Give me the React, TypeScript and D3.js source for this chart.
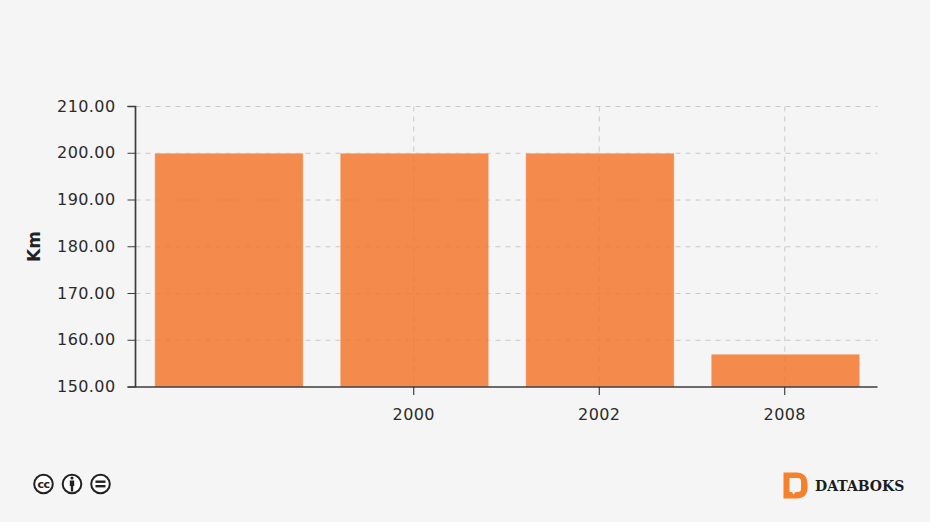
import React, { useEffect, useRef } from 'react'
import * as d3 from 'd3'

const categories = ['', '2000', '2002', '2008']
const values = [200, 200, 200, 157]
const yTicks = [150, 160, 170, 180, 190, 200, 210]
const yTitle = 'Km'
const brand = 'DATABOKS'

const width = 930
const height = 522
const margin = { top: 106.5, right: 52.5, bottom: 135, left: 135.5 }
const font = '"DejaVu Sans", sans-serif'

const App = () => {
  const svgRef = useRef<SVGSVGElement>(null)

  useEffect(() => {
    if (!svgRef.current) return
    const svg = d3.select(svgRef.current)
    svg.selectAll('*').remove()

    const x = d3
      .scaleBand()
      .domain(categories)
      .range([margin.left, width - margin.right])
      .paddingInner(0.2)
      .paddingOuter(0.1)
    const y = d3
      .scaleLinear()
      .domain([150, 210])
      .range([height - margin.bottom, margin.top])

    // grid sits under the translucent bars
    const grid = svg.append('g')
    grid
      .selectAll('line.h')
      .data(yTicks.slice(1))
      .join('line')
      .attr('class', 'h')
      .attr('x1', margin.left)
      .attr('x2', width - margin.right)
      .attr('y1', (d) => y(d))
      .attr('y2', (d) => y(d))
    grid
      .selectAll('line.v')
      .data(categories.filter((c) => c !== ''))
      .join('line')
      .attr('class', 'v')
      .attr('x1', (d) => x(d)! + x.bandwidth() / 2)
      .attr('x2', (d) => x(d)! + x.bandwidth() / 2)
      .attr('y1', margin.top)
      .attr('y2', height - margin.bottom)
    grid
      .selectAll('line')
      .attr('stroke', '#c8c8c8')
      .attr('stroke-width', 1)
      .attr('stroke-dasharray', '5 5')

    svg
      .append('g')
      .attr('transform', 'translate(0.7,0)')
      .selectAll('rect')
      .data(values)
      .join('rect')
      .attr('x', (_, i) => x(categories[i])!)
      .attr('y', (d) => y(d))
      .attr('width', x.bandwidth())
      .attr('height', (d) => y(150) - y(d))
      .attr('fill', '#f4742a')
      .attr('fill-opacity', 0.83)
      .attr('stroke', '#ffffff')
      .attr('stroke-opacity', 0.3)
      .attr('stroke-width', 1)

    const yAxis = d3
      .axisLeft(y)
      .tickValues(yTicks)
      .tickSize(8)
      .tickPadding(12)
      .offset(0)
      .tickFormat(d3.format('.2f') as any)
    const yG = svg
      .append('g')
      .attr('transform', `translate(${margin.left},0)`)
      .call(yAxis)
    yG.select('.domain').attr('stroke', '#3c3c3c').attr('stroke-width', 1.7)
    yG.selectAll('.tick line').attr('stroke', '#3c3c3c')
    yG.selectAll('text')
      .attr('font-family', font)
      .attr('font-size', 16)
      .attr('letter-spacing', 0.4)
      .attr('fill', '#2b2b2b')

    const xAxis = d3
      .axisBottom(x)
      .tickValues(categories.filter((c) => c !== ''))
      .tickSize(8)
      .tickSizeOuter(0)
      .tickPadding(14)
      .offset(0)
    const xG = svg
      .append('g')
      .attr('transform', `translate(0,${height - margin.bottom})`)
      .call(xAxis)
    xG.select('.domain').attr('stroke', '#3c3c3c').attr('stroke-width', 1.7)
    xG.selectAll('.tick line').attr('stroke', '#222')
    xG.selectAll('text')
      .attr('font-family', font)
      .attr('font-size', 16)
      .attr('letter-spacing', 0.4)
      .attr('fill', '#2b2b2b')

    svg
      .append('text')
      .attr('transform', 'translate(40,246.5) rotate(-90)')
      .attr('text-anchor', 'middle')
      .attr('font-family', font)
      .attr('font-size', 17)
      .attr('font-weight', 700)
      .attr('fill', '#222')
      .text(yTitle)

    // licence badges
    const badges = svg.append('g').attr('fill', 'none').attr('stroke', '#222')
    ;[43.5, 72, 100.5].forEach((cx) => {
      badges
        .append('circle')
        .attr('cx', cx)
        .attr('cy', 484)
        .attr('r', 9.3)
        .attr('fill', '#fff')
        .attr('stroke-width', 2)
    })
    svg
      .append('text')
      .attr('x', 43.5)
      .attr('y', 488)
      .attr('text-anchor', 'middle')
      .attr('font-family', font)
      .attr('font-size', 11)
      .attr('font-weight', 700)
      .attr('letter-spacing', -0.4)
      .attr('fill', '#222')
      .text('cc')
    const person = svg.append('g').attr('fill', '#222')
    person.append('circle').attr('cx', 72).attr('cy', 478).attr('r', 1.6)
    person
      .append('path')
      .attr('d', 'M69.8 480.5h4.4v5.5h-1v5.5h-2.4v-5.5h-1z')
    const equals = svg.append('g').attr('fill', '#222')
    equals.append('rect').attr('x', 95.5).attr('y', 480.5).attr('width', 10).attr('height', 2.4)
    equals.append('rect').attr('x', 95.5).attr('y', 485).attr('width', 10).attr('height', 2.4)

    // databoks mark
    svg
      .append('path')
      .attr('fill-rule', 'evenodd')
      .attr('fill', '#f5822a')
      .attr(
        'd',
        'M783.5 472.5h13c7 0 11 4 11 11v5c0 6-4 10-11 10h-13z M789.5 478v14h2.5l1.5 2.5 2-2.5h2.5c2 0 3-1 3-3v-8c0-2-1-3-3-3z',
      )
    svg
      .append('text')
      .attr('x', 815)
      .attr('y', 491)
      .attr('font-family', '"DejaVu Serif", serif')
      .attr('font-size', 14)
      .attr('font-weight', 700)
      .attr('fill', '#1c1c1c')
      .text(brand)
  }, [])

  return (
    <svg
      ref={svgRef}
      width={width}
      height={height}
      style={{ position: 'absolute', left: 0, top: 0, background: '#f5f5f5' }}
    />
  )
}

export default App
